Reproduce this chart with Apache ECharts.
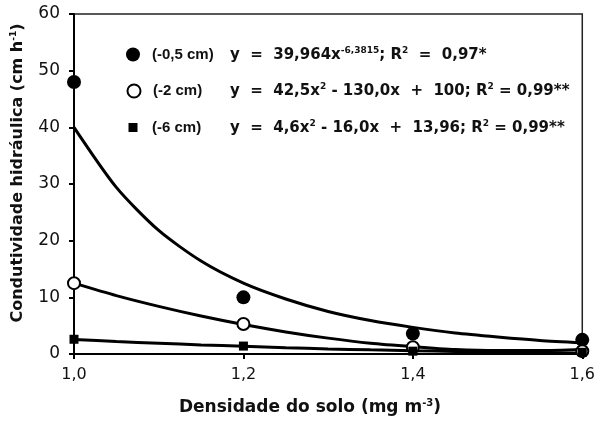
<!DOCTYPE html>
<html>
<head>
<meta charset="utf-8">
<script src="https://cdn.jsdelivr.net/npm/echarts@6/dist/echarts.min.js"></script>
<style>
  html, body { margin: 0; padding: 0; background: #fff; }
  #chart { width: 598px; height: 421px; }
</style>
</head>
<body>
<div id="chart"></div>
<script>
// observed points (density, conductivity)
let densities = [1.0, 1.2, 1.4, 1.6]
let obs05 = [48, 10, 3.6, 2.5]
let obs2 = [12.5, 5.3, 1.2, 0.5]
let obs6 = [2.6, 1.4, 0.5, 0.3]

// fitted curves
let fitX = [1.0, 1.05, 1.1, 1.15, 1.2, 1.25, 1.3, 1.35, 1.4, 1.45, 1.5, 1.55, 1.6]
let fit05 = [40, 29.4, 21.8, 16.4, 12.5, 9.7, 7.5, 5.9, 4.7, 3.7, 3.0, 2.4, 2.0]
let fit2 = [12.5, 10.3, 8.4, 6.7, 5.2, 3.9, 2.8, 1.9, 1.3, 0.8, 0.6, 0.6, 0.8]
let fit6 = [2.56, 2.2, 1.9, 1.6, 1.38, 1.1, 0.9, 0.73, 0.58, 0.45, 0.33, 0.22, 0.14]

let legendNames = ['(-0,5 cm)', '(-2 cm)', '(-6 cm)']
let equations = [
    'y  =  39,964x{sup|-6,3815}; R{sup|2}  =  0,97*',
    'y  =  42,5x{sup|2} - 130,0x  +  100; R{sup|2} = 0,99**',
    'y  =  4,6x{sup|2} - 16,0x  +  13,96; R{sup|2} = 0,99**'
]
let xTitle = 'Densidade do solo (mg m{sup|-3})'
let yTitle = 'Condutividade hidráulica (cm h{sup|-1})'

const font = '"DejaVu Sans", Arial, sans-serif'
const arial = '"Liberation Sans", Arial, sans-serif'
const pair = (xs, ys) => xs.map((x, i) => [x, ys[i]])
const comma = v => v.toFixed(1).replace('.', ',')
const supStyle = size => ({ fontSize: size, fontWeight: 'bold', fontFamily: font, verticalAlign: 'top', padding: [0, 0, size, 0] })

function fitLine(name, xs, ys) {
    return {
        name: name, type: 'line', smooth: 0.25, symbol: 'none', silent: true,
        data: pair(xs, ys),
        lineStyle: { color: '#000', width: 3 }, z: 2
    }
}

let series = [
    fitLine('f05', fitX, fit05),
    fitLine('f2', fitX, fit2),
    fitLine('f6', fitX, fit6),
    {
        name: legendNames[0], type: 'scatter', data: pair(densities, obs05),
        symbol: 'circle', symbolSize: 14,
        itemStyle: { color: '#000', opacity: 1 }, z: 3
    },
    {
        name: legendNames[1], type: 'scatter', data: pair(densities, obs2),
        symbol: 'circle', symbolSize: 12,
        itemStyle: { color: '#fff', borderColor: '#000', borderWidth: 2, opacity: 1 }, z: 3
    },
    {
        name: legendNames[2], type: 'scatter', data: pair(densities, obs6),
        symbol: 'rect', symbolSize: 9,
        itemStyle: { color: '#000', opacity: 1 }, z: 3
    }
]

let legendSizes = [14, 13, 9]
let legends = legendNames.map((n, i) => ({
    data: [n], left: 133 - legendSizes[i] / 2, top: 47 + i * 36.5, padding: 0,
    itemWidth: legendSizes[i], itemHeight: legendSizes[i], itemGap: 0,
    textStyle: {
        fontFamily: arial, fontSize: 15, fontWeight: 'bold', color: '#111',
        padding: [0, 0, 0, 14 - legendSizes[i] / 2]
    },
    selectedMode: false
}))

let texts = equations.map((t, i) => ({
    type: 'text', left: 230, top: 46 + i * 36.5, z: 10,
    style: {
        text: t, fill: '#111',
        font: 'bold 15px ' + font,
        rich: { sup: supStyle(9) }
    }
}))
texts.push({
    type: 'text', x: 18, y: 173, rotation: Math.PI / 2, z: 10,
    style: {
        text: yTitle, fill: '#111', align: 'center', verticalAlign: 'middle',
        font: 'bold 16px ' + font, rich: { sup: supStyle(9) }
    }
})
texts.push({
    type: 'text', x: 310, y: 408, z: 10,
    style: {
        text: xTitle, fill: '#111', align: 'center', verticalAlign: 'middle',
        font: 'bold 17px ' + font, rich: { sup: supStyle(10) }
    }
})

let option = {
    animation: false,
    backgroundColor: '#fff',
    grid: {
        left: 74, right: 15, top: 14, bottom: 67,
        show: true, borderColor: '#222', borderWidth: 1.5
    },
    legend: legends,
    xAxis: {
        type: 'value', min: 1.0, max: 1.6, interval: 0.2,
        axisLine: { lineStyle: { color: '#000', width: 2 } },
        axisTick: { show: true, length: 5, lineStyle: { color: '#000', width: 2 } },
        axisLabel: { formatter: comma, fontFamily: font, fontSize: 16, color: '#111', margin: 13 },
        splitLine: { show: false }
    },
    yAxis: {
        type: 'value', min: 0, max: 60, interval: 10,
        axisLine: { lineStyle: { color: '#000', width: 2 } },
        axisTick: { show: true, length: 5, lineStyle: { color: '#000', width: 2 } },
        axisLabel: { fontFamily: font, fontSize: 17, color: '#111', margin: 14 },
        splitLine: { show: false }
    },
    graphic: texts,
    series: series
}

let chart = echarts.init(document.getElementById('chart'))
chart.setOption(option)
</script>
</body>
</html>
